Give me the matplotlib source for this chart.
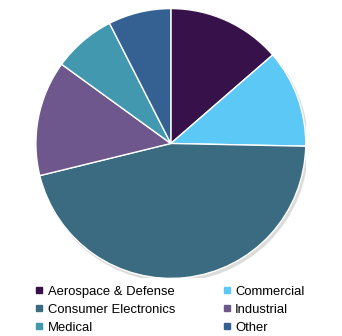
import matplotlib.pyplot as plt
from matplotlib.lines import Line2D
from matplotlib.patches import Circle

plt.rcParams['font.family'] = ['Liberation Sans', 'DejaVu Sans']

segments = ['Aerospace & Defense', 'Commercial', 'Consumer Electronics',
            'Industrial', 'Medical', 'Other']
shares = [13.6, 11.7, 45.8, 13.8, 7.5, 7.5]
colors = ['#37124a', '#5bc8f5', '#3b6b80', '#6e578c', '#4298af', '#346092']

fig = plt.figure(figsize=(3.42, 3.36), dpi=100)
ax = fig.add_axes([0.105, 0.171, 0.789, 0.804])

# soft shadow under the pie
ax.add_patch(Circle((0.015, -0.02), 1.0, color='#dcdcdc', zorder=0))
ax.pie(shares, colors=colors, startangle=90, counterclock=False,
       wedgeprops=dict(edgecolor='white', linewidth=1))
ax.set_xlim(-1, 1)
ax.set_ylim(-1, 1)
ax.set_aspect('equal')
ax.axis('off')

handles = [Line2D([], [], linestyle='none', marker='s', markersize=4,
                  markerfacecolor=c, markeredgecolor=c) for c in colors]
# legend fills columns first, so reorder to read row by row
order = [0, 2, 4, 1, 3, 5]
fig.legend([handles[i] for i in order], [segments[i] for i in order],
           ncol=2, loc='upper left', bbox_to_anchor=(0.103, 0.15),
           frameon=False, fontsize=9.4, handlelength=0.6, handletextpad=0.35,
           columnspacing=3.65, labelspacing=0.45, borderpad=0, borderaxespad=0)

fig.savefig('out.png', dpi=100)
